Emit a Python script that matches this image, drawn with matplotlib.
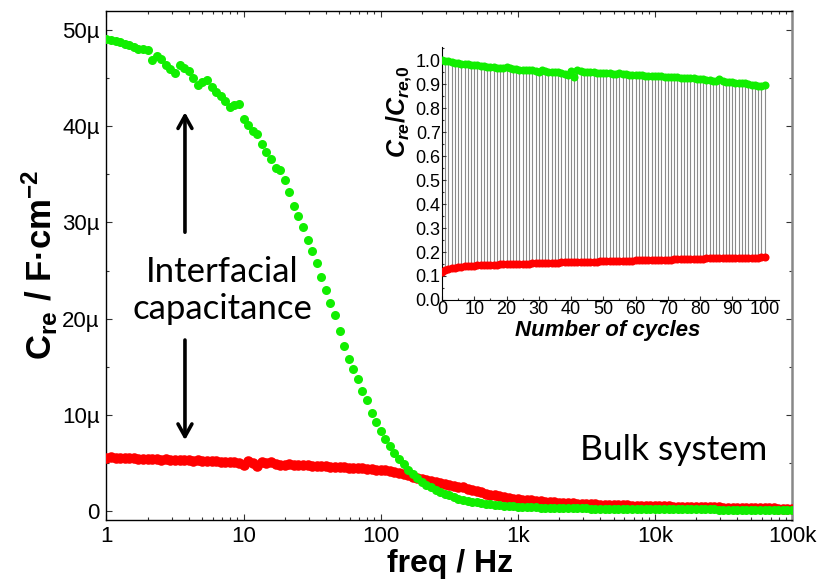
import numpy as np
import matplotlib
matplotlib.use("Agg")
import matplotlib.pyplot as plt
from matplotlib.ticker import FixedLocator, MultipleLocator, FuncFormatter, LogLocator, NullFormatter

plt.rcParams["font.family"] = ["Liberation Sans", "DejaVu Sans"]
plt.rcParams["mathtext.fontset"] = "custom"
plt.rcParams["mathtext.rm"] = "Liberation Sans:bold"
plt.rcParams["mathtext.bf"] = "Liberation Sans:bold"
plt.rcParams["mathtext.it"] = "Liberation Sans:bold:italic"

# Frequency sweep (Hz), 30 points per decade from 1 Hz to 100 kHz
freq = np.logspace(0, 5, 151)

# Real part of capacitance, in µF/cm²
c_re_interfacial = [
    49.1, 49.0, 48.9, 48.8, 48.6, 48.5, 48.3, 48.1, 48.0, 47.9,
    46.9, 47.3, 47.0, 46.4, 46.0, 45.6, 46.4, 46.1, 45.8, 45.0,
    44.3, 44.6, 44.8, 44.1, 43.6, 43.2, 42.6, 42.0, 42.2, 42.3,
    40.8, 40.1, 39.5, 39.2, 38.2, 37.3, 36.6, 35.7, 35.5, 34.4,
    33.2, 31.7, 30.7, 29.5, 28.2, 27.0, 25.8, 24.3, 23.0, 21.6,
    20.4, 18.7, 17.1, 15.8, 14.8, 13.7, 12.5, 11.5, 10.2, 9.2,
    8.3, 7.5, 6.7, 6.0, 5.4, 4.9, 4.3, 3.8, 3.4, 3.0,
    2.7, 2.45, 2.2, 2.0, 1.8, 1.6, 1.4, 1.25, 1.15, 1.05,
    0.97, 0.9, 0.82, 0.75, 0.68, 0.62, 0.57, 0.53, 0.49, 0.46,
    0.43, 0.41, 0.39, 0.37, 0.36, 0.34, 0.33, 0.32, 0.31, 0.30,
    0.29, 0.28, 0.27, 0.26, 0.26, 0.25, 0.24, 0.24, 0.23, 0.23,
    0.22, 0.22, 0.21, 0.21, 0.20, 0.20, 0.20, 0.19, 0.19, 0.19,
    0.18, 0.18, 0.18, 0.17, 0.17, 0.17, 0.16, 0.16, 0.16, 0.16,
    0.15, 0.15, 0.15, 0.15, 0.14, 0.14, 0.14, 0.14, 0.14, 0.13,
    0.13, 0.13, 0.13, 0.13, 0.13, 0.12, 0.12, 0.12, 0.12, 0.12,
    0.12,
]
c_re_bulk = [
    5.55, 5.6, 5.5, 5.5, 5.45, 5.5, 5.45, 5.4, 5.4, 5.35,
    5.4, 5.35, 5.3, 5.35, 5.3, 5.3, 5.25, 5.3, 5.25, 5.2,
    5.25, 5.2, 5.15, 5.2, 5.15, 5.1, 5.1, 5.05, 5.05, 5.0,
    4.8, 5.15, 4.95, 4.7, 5.1, 4.95, 5.05, 4.9, 4.75, 4.8,
    4.85, 4.8, 4.8, 4.75, 4.75, 4.7, 4.7, 4.65, 4.65, 4.6,
    4.6, 4.55, 4.55, 4.5, 4.5, 4.45, 4.45, 4.4, 4.35, 4.3,
    4.3, 4.2, 4.15, 4.05, 3.95, 3.85, 3.7, 3.55, 3.45, 3.35,
    3.2, 3.1, 3.0, 2.9, 2.8, 2.7, 2.6, 2.5, 2.45, 2.3,
    2.2, 2.05, 1.95, 1.8, 1.7, 1.6, 1.5, 1.42, 1.35, 1.28,
    1.22, 1.17, 1.12, 1.08, 1.03, 0.99, 0.95, 0.92, 0.89, 0.86,
    0.84, 0.81, 0.78, 0.76, 0.74, 0.71, 0.69, 0.67, 0.65, 0.63,
    0.62, 0.6, 0.59, 0.57, 0.56, 0.55, 0.54, 0.52, 0.51, 0.5,
    0.49, 0.48, 0.47, 0.46, 0.45, 0.44, 0.43, 0.42, 0.41, 0.4,
    0.39, 0.38, 0.37, 0.36, 0.35, 0.34, 0.33, 0.32, 0.31, 0.3,
    0.29, 0.28, 0.28, 0.27, 0.26, 0.26, 0.25, 0.24, 0.24, 0.23,
    0.22,
]

x_ticks = [1, 10, 100, 1e3, 1e4, 1e5]
x_ticklabels = ["1", "10", "100", "1k", "10k", "100k"]
y_ticks = [0, 10, 20, 30, 40, 50]
y_ticklabels = ["0", "10µ", "20µ", "30µ", "40µ", "50µ"]

# Normalised capacitance over repeated cycles
cycles = np.arange(101)
norm_high = [
    1.000, 0.998, 0.996, 0.993, 0.990, 0.988, 0.985, 0.984, 0.982, 0.981,
    0.980, 0.978, 0.976, 0.974, 0.973, 0.972, 0.970, 0.969, 0.968, 0.967,
    0.972, 0.966, 0.962, 0.965, 0.961, 0.960, 0.959, 0.958, 0.957, 0.955,
    0.952, 0.960, 0.954, 0.951, 0.950, 0.950, 0.949, 0.947, 0.944, 0.940,
    0.955, 0.928, 0.958, 0.953, 0.952, 0.951, 0.950, 0.949, 0.948, 0.948,
    0.947, 0.946, 0.945, 0.944, 0.943, 0.946, 0.942, 0.941, 0.940, 0.939,
    0.939, 0.938, 0.937, 0.936, 0.935, 0.935, 0.934, 0.933, 0.932, 0.931,
    0.930, 0.929, 0.928, 0.928, 0.927, 0.926, 0.925, 0.924, 0.924, 0.923,
    0.921, 0.920, 0.918, 0.916, 0.915, 0.914, 0.920, 0.912, 0.909, 0.908,
    0.907, 0.906, 0.905, 0.904, 0.903, 0.900, 0.898, 0.896, 0.893, 0.894,
    0.898,
]
norm_low = [
    0.116, 0.124, 0.129, 0.132, 0.135, 0.137, 0.139, 0.140, 0.141, 0.142,
    0.143, 0.144, 0.145, 0.145, 0.146, 0.146, 0.147, 0.147, 0.148, 0.148,
    0.149, 0.149, 0.150, 0.150, 0.151, 0.151, 0.152, 0.152, 0.153, 0.153,
    0.154, 0.154, 0.155, 0.155, 0.155, 0.156, 0.156, 0.157, 0.157, 0.157,
    0.158, 0.158, 0.158, 0.159, 0.159, 0.159, 0.160, 0.160, 0.160, 0.161,
    0.161, 0.161, 0.162, 0.162, 0.163, 0.164, 0.163, 0.163, 0.164, 0.164,
    0.165, 0.165, 0.166, 0.165, 0.166, 0.166, 0.167, 0.167, 0.167, 0.168,
    0.168, 0.168, 0.169, 0.169, 0.169, 0.170, 0.170, 0.170, 0.171, 0.171,
    0.172, 0.172, 0.173, 0.174, 0.173, 0.173, 0.173, 0.174, 0.174, 0.174,
    0.175, 0.175, 0.175, 0.176, 0.176, 0.176, 0.177, 0.177, 0.177, 0.178,
    0.180,
]

GREEN = "#11ee00"
RED = "#ff0000"

fig = plt.figure(figsize=(8.19, 5.8), dpi=100)
ax = fig.add_axes([0.130, 0.1043, 0.837, 0.8767])

ax.plot(freq, c_re_bulk, "o", color=RED, ms=7.6, mec=RED, mew=0, zorder=3)
ax.plot(freq, c_re_interfacial, "o", color=GREEN, ms=6.5, mec=GREEN, mew=0, zorder=4)

ax.set_xscale("log")
ax.set_xlim(1, 1e5)
ax.set_ylim(-0.9, 52.0)
ax.xaxis.set_major_locator(FixedLocator(x_ticks))
ax.set_xticklabels(x_ticklabels)
ax.xaxis.set_minor_locator(LogLocator(base=10, subs=np.arange(2, 10)))
ax.xaxis.set_minor_formatter(NullFormatter())
ax.yaxis.set_major_locator(FixedLocator(y_ticks))
ax.set_yticklabels(y_ticklabels)
ax.yaxis.set_minor_locator(MultipleLocator(5))
ax.tick_params(which="both", direction="in", top=True, right=True,
               labelsize=16, width=0.8, color="#333333")
ax.tick_params(which="major", length=4, pad=5)
ax.tick_params(which="minor", length=2.5)
for s in ax.spines.values():
    s.set_linewidth(1.0)
ax.spines["right"].set_color("#888888")
ax.spines["right"].set_linewidth(1.8)

ax.set_ylabel(r"$\mathbf{C}_{\mathbf{re}}$ / F·cm$^{\mathbf{-2}}$",
              fontsize=25, fontweight="bold")
ax.yaxis.set_label_coords(-0.068, 0.5)
ax.set_xlabel("freq / Hz", fontsize=23, fontweight="bold")
ax.xaxis.set_label_coords(0.501, -0.058)

ax.annotate("", xy=(0.1145, 0.801), xytext=(0.1145, 0.565), xycoords="axes fraction",
            arrowprops=dict(arrowstyle="->,head_length=0.9,head_width=0.5",
                            lw=2.6, color="black", shrinkA=0, shrinkB=0))
ax.annotate("", xy=(0.1145, 0.156), xytext=(0.1145, 0.353), xycoords="axes fraction",
            arrowprops=dict(arrowstyle="->,head_length=0.9,head_width=0.5",
                            lw=2.6, color="black", shrinkA=0, shrinkB=0))
ax.text(0.1688, 0.451, "Interfacial\ncapacitance", transform=ax.transAxes,
        ha="center", va="center", fontsize=25, family="Lato", linespacing=1.2)
ax.text(0.828, 0.137, "Bulk system", transform=ax.transAxes,
        ha="center", va="center", fontsize=25.5, family="Lato")

# Inset: capacitance ratio versus cycle number
ins = fig.add_axes([0.5397, 0.4828, 0.4115, 0.4362])
ins.vlines(cycles, norm_low, norm_high, color="#8a8a8a", lw=0.8, zorder=1)
ins.plot(cycles, norm_low, "o", color=RED, ms=5.8, mew=0, zorder=3)
ins.plot(cycles, norm_high, "o", color=GREEN, ms=5.8, mew=0, zorder=3)
ins.set_xlim(0, 104.5)
ins.set_ylim(0, 1.055)
ins.xaxis.set_major_locator(MultipleLocator(10))
ins.xaxis.set_minor_locator(MultipleLocator(5))
ins.yaxis.set_major_locator(MultipleLocator(0.1))
ins.yaxis.set_minor_locator(MultipleLocator(0.05))
ins.yaxis.set_major_formatter(FuncFormatter(lambda v, p: f"{v:.1f}"))
ins.tick_params(which="both", direction="in", labelsize=13, pad=1, width=0.8,
                color="#333333")
ins.tick_params(which="major", length=3)
ins.tick_params(which="minor", length=1.5)
ins.spines["top"].set_visible(False)
ins.spines["right"].set_visible(False)
ins.patch.set_alpha(0)

fig.text(0.742, 0.431, "Number of cycles", ha="center", va="center",
         fontsize=16, fontweight="bold", fontstyle="italic")
fig.text(0.488, 0.807, r"$\mathit{C_{re}/C_{re{,}0}}$", ha="center", va="center",
         rotation=90, fontsize=18)

fig.savefig("out.png", dpi=100)
